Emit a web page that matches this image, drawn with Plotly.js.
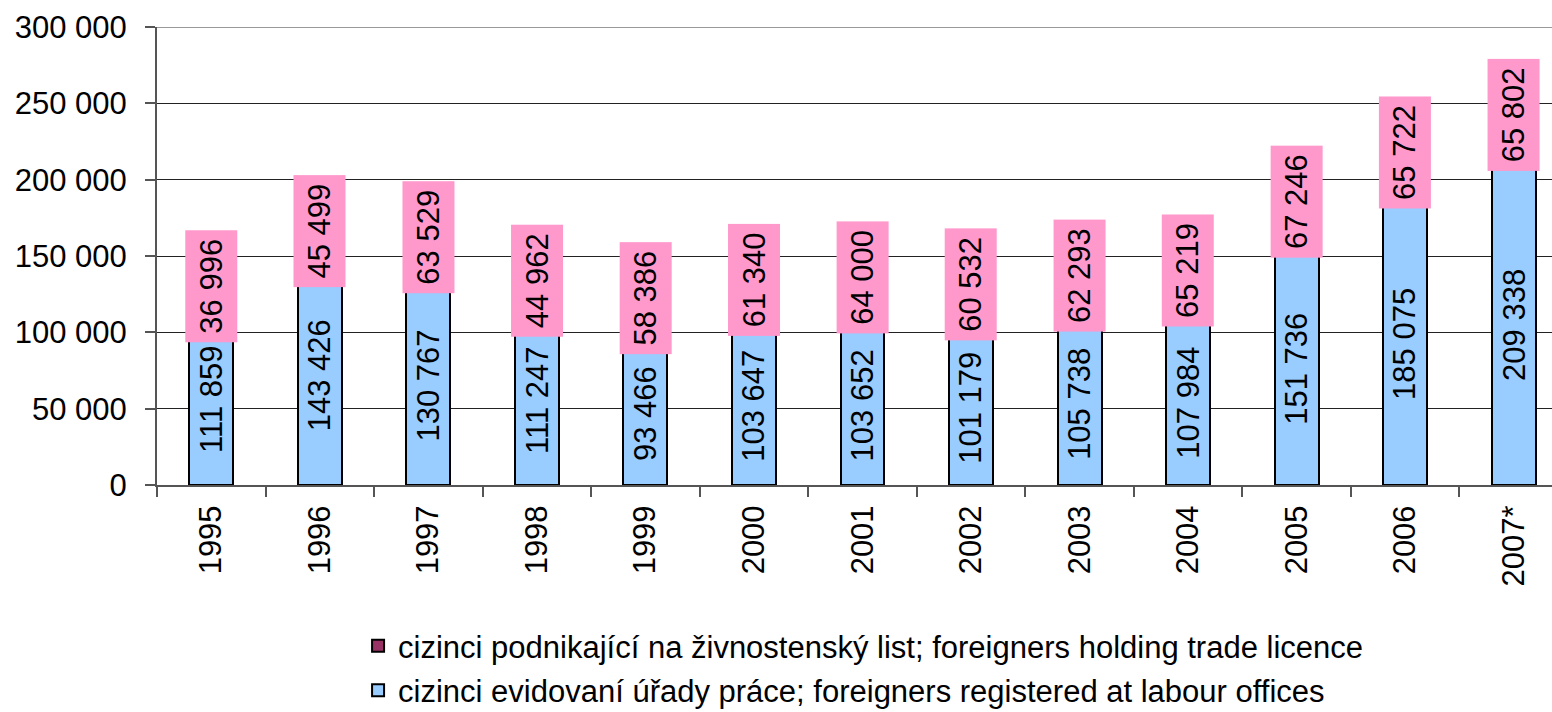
<!DOCTYPE html>
<html>
<head>
<meta charset="utf-8">
<script src="https://cdn.plot.ly/plotly-3.0.1.min.js"></script>
<style>
  html, body { margin: 0; padding: 0; background: #fff; overflow: hidden; }
  #chart { width: 1570px; height: 712px; }
</style>
</head>
<body>
<div id="chart"></div>
<script>
const years = ['1995','1996','1997','1998','1999','2000','2001','2002','2003','2004','2005','2006','2007*'];
const labourOffices = [111859,143426,130767,111247,93466,103647,103652,101179,105738,107984,151736,185075,209338];
const tradeLicence = [36996,45499,63529,44962,58386,61340,64000,60532,62293,65219,67246,65722,65802];
const nameTrade = 'cizinci podnikající na živnostenský list; foreigners holding trade licence';
const nameLabour = 'cizinci evidovaní úřady práce; foreigners registered at labour offices';

const FONT = '"Liberation Sans", Arial, sans-serif';
const fmt = n => String(n).replace(/\B(?=(\d{3})+(?!\d))/g, ' ');

const traces = [
  {
    type: 'bar', x: years, y: labourOffices, name: nameLabour,
    legendgroup: 'labour', legendrank: 2,
    marker: { color: '#99CCFF', line: { color: '#000', width: 2 } },
    hoverinfo: 'x+y'
  },
  {
    type: 'bar', x: years, y: tradeLicence, name: nameTrade,
    legendgroup: 'trade', legendrank: 1,
    marker: { color: '#993366', line: { color: '#000', width: 2 } },
    hoverinfo: 'x+y'
  }
];

const annotations = [];
years.forEach((yr, i) => {
  annotations.push({
    x: i, y: labourOffices[i] / 2, xref: 'x', yref: 'y',
    text: fmt(labourOffices[i]), showarrow: false, textangle: -90,
    font: { family: FONT, size: 31, color: '#000' },
    borderpad: 0
  });
  annotations.push({
    x: i, y: labourOffices[i] + tradeLicence[i] / 2, xref: 'x', yref: 'y',
    text: fmt(tradeLicence[i]), showarrow: false, textangle: -90,
    font: { family: FONT, size: 31, color: '#000' },
    bgcolor: '#FF99CC', width: 112, height: 52, borderpad: 0, borderwidth: 0
  });
});

const layout = {
  width: 1570, height: 712,
  margin: { l: 157, r: 2, t: 27, b: 227, autoexpand: false },
  paper_bgcolor: '#fff', plot_bgcolor: '#fff',
  separators: '. ',
  barmode: 'stack',
  bargap: 0.595,
  font: { family: FONT, size: 31, color: '#000' },
  xaxis: {
    type: 'category',
    range: [-0.5, years.length - 0.5],
    automargin: false,
    tickangle: -90,
    ticks: 'outside', tickson: 'boundaries', ticklen: 10, tickwidth: 2, tickcolor: '#555',
    showline: true, linecolor: '#555', linewidth: 2,
    showgrid: false, zeroline: false,
    tickfont: { family: FONT, size: 31, color: '#000' },
    ticklabelstandoff: 6
  },
  yaxis: {
    range: [0, 300000], dtick: 50000, tickformat: ',d',
    automargin: false,
    ticks: 'outside', ticklen: 10, tickwidth: 2, tickcolor: '#555',
    showline: true, linecolor: '#555', linewidth: 2,
    showgrid: true, gridcolor: '#222', gridwidth: 1,
    zeroline: false,
    tickfont: { family: FONT, size: 31, color: '#000' },
    ticklabelstandoff: 12
  },
  shapes: [
    { type: 'line', xref: 'paper', yref: 'y', x0: 0, x1: 1, y0: 300000, y1: 300000,
      line: { color: '#999', width: 2 } }
  ],
  showlegend: true,
  legend: {
    orientation: 'v', x: 0.1425, xanchor: 'left', y: -0.293, yanchor: 'top',
    traceorder: 'grouped', tracegroupgap: 1,
    font: { family: FONT, size: 31, color: '#000' },
    bgcolor: 'rgba(0,0,0,0)'
  },
  annotations: annotations
};

Plotly.newPlot('chart', traces, layout, { displayModeBar: false, staticPlot: true });
</script>
</body>
</html>
